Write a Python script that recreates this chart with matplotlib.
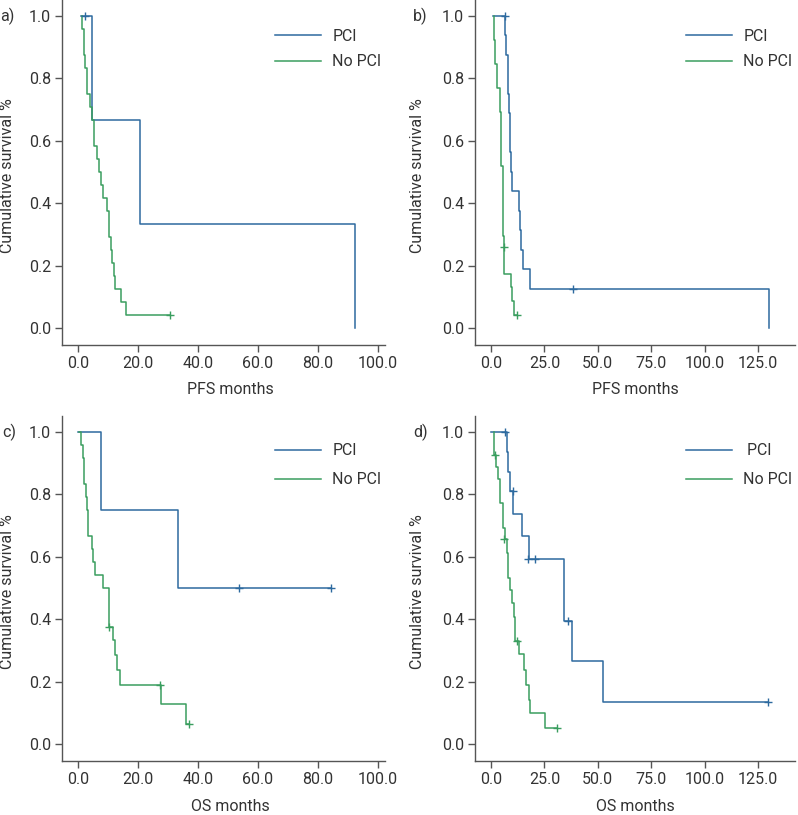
import matplotlib
matplotlib.use("Agg")
import matplotlib.pyplot as plt

plt.rcParams['font.family'] = ['Roboto', 'DejaVu Sans']

# 颜色
blue = "#2d6a9f"
green = "#3a9e5f"
grey = "#555555"
text_col = "#333333"
fs = 11.5

# a) PFS, 4 个面板的 Kaplan-Meier 阶梯数据 (时间, 生存率)
a_pci_t = [0.9, 4.6, 20.7, 92.2]
a_pci_s = [1.0, 0.667, 0.333, 0.0]
a_pci_cens_t = [2.5]
a_pci_cens_s = [1.0]
a_nopci_t = [1.4, 1.5, 1.9, 2.3, 3.0, 4.1, 4.7, 5.5, 6.2, 7.1, 7.8, 8.2, 9.6,
             10.2, 10.4, 10.9, 11.3, 12.1, 12.5, 14.2, 16.1, 30.7]
a_nopci_s = [1.0, 0.958, 0.875, 0.833, 0.75, 0.708, 0.667, 0.583, 0.542, 0.5,
             0.458, 0.417, 0.375, 0.333, 0.292, 0.25, 0.208, 0.167, 0.125,
             0.083, 0.042, 0.042]
a_nopci_cens_t = [30.7]
a_nopci_cens_s = [0.042]

# b) PFS
b_pci_t = [1.1, 6.6, 7.0, 7.8, 8.3, 8.7, 9.2, 9.8, 13.2, 13.6, 14.2, 14.8, 18.2, 130.0]
b_pci_s = [1.0, 0.9375, 0.875, 0.75, 0.6875, 0.5625, 0.5, 0.4375, 0.375,
           0.3125, 0.25, 0.1875, 0.125, 0.0]
b_pci_cens_t = [6.6, 38.3]
b_pci_cens_s = [1.0, 0.125]
b_nopci_t = [1.2, 1.4, 1.9, 3.0, 4.2, 4.8, 5.5, 5.8, 5.95, 6.2, 9.4, 10.0, 10.9, 12.3]
b_nopci_s = [1.0, 0.923, 0.846, 0.769, 0.692, 0.52, 0.333, 0.296, 0.261,
             0.174, 0.13, 0.087, 0.043, 0.043]
b_nopci_cens_t = [6.1, 12.3]
b_nopci_cens_s = [0.261, 0.043]

# c) OS
c_pci_t = [0.0, 7.7, 33.2, 84.3]
c_pci_s = [1.0, 0.75, 0.5, 0.5]
c_pci_cens_t = [53.8, 84.3]
c_pci_cens_s = [0.5, 0.5]
c_nopci_t = [0.5, 1.1, 1.55, 2.0, 2.6, 2.9, 3.35, 4.6, 5.0, 5.6, 8.4, 10.3,
             11.6, 12.2, 13.1, 14.0, 27.7, 36.1, 37.1]
c_nopci_s = [1.0, 0.958, 0.917, 0.833, 0.792, 0.75, 0.667, 0.625, 0.583, 0.542,
             0.5, 0.375, 0.333, 0.286, 0.238, 0.19, 0.127, 0.063, 0.063]
c_nopci_cens_t = [10.3, 27.3, 37.1]
c_nopci_cens_s = [0.375, 0.19, 0.063]

# d) OS
d_pci_t = [0.2, 7.3, 8.1, 8.9, 10.5, 14.5, 17.6, 34.0, 38.1, 52.2, 129.8]
d_pci_s = [1.0, 0.935, 0.873, 0.812, 0.738, 0.666, 0.592, 0.395, 0.267, 0.135, 0.135]
d_pci_cens_t = [6.7, 10.4, 17.4, 20.8, 36.2, 129.8]
d_pci_cens_s = [1.0, 0.812, 0.592, 0.592, 0.395, 0.135]
d_nopci_t = [1.4, 1.6, 2.2, 3.4, 4.2, 5.5, 6.4, 7.3, 8.0, 8.9, 10.0, 10.8,
             11.4, 13.0, 15.6, 16.5, 17.8, 18.4, 25.1, 31.0]
d_nopci_s = [1.0, 0.925, 0.889, 0.85, 0.772, 0.693, 0.656, 0.613, 0.531, 0.493,
             0.452, 0.408, 0.331, 0.287, 0.236, 0.188, 0.142, 0.098, 0.05, 0.05]
d_nopci_cens_t = [2.0, 6.2, 12.3, 31.0]
d_nopci_cens_s = [0.925, 0.656, 0.331, 0.05]

xticks_100 = [0, 20, 40, 60, 80, 100]
xticks_125 = [0, 25, 50, 75, 100, 125]
yticks = [0.0, 0.2, 0.4, 0.6, 0.8, 1.0]

W, H = 798, 815


def px_axes(fig, left, top, width, height):
    # 用像素位置创建坐标轴
    return fig.add_axes([left / W, (H - top - height) / H, width / W, height / H])


def draw_panel(ax, pci, nopci, xticks, xlim, xlabel, pci_label, leg_y, leg_sp):
    pt, ps, pct, pcs = pci
    nt, ns, nct, ncs = nopci
    l1, = ax.step(pt, ps, where="post", color=blue, lw=1.1)
    l2, = ax.step(nt, ns, where="post", color=green, lw=1.1)
    ax.plot(pct, pcs, ls="none", marker="+", ms=6, mew=1.0, color=blue)
    ax.plot(nct, ncs, ls="none", marker="+", ms=6, mew=1.0, color=green)

    ax.set_xlim(*xlim)
    ax.set_ylim(-0.0545, 1.051)
    ax.set_xticks(xticks)
    ax.set_xticklabels([f"{v:.1f}" for v in xticks])
    ax.set_yticks(yticks)
    ax.set_yticklabels([f"{v:.1f}" for v in yticks])

    for s in ["top", "right"]:
        ax.spines[s].set_visible(False)
    for s in ["left", "bottom"]:
        ax.spines[s].set_color(grey)
        ax.spines[s].set_linewidth(1.0)
    ax.tick_params(direction="out", length=5, width=1.0, color=grey,
                   labelcolor=text_col, labelsize=fs, pad=3)

    ax.set_xlabel(xlabel, fontsize=fs, color=text_col)
    ax.set_ylabel("Cumulative survival %", fontsize=fs, color=text_col)

    ax.legend([l1, l2], [pci_label, "No PCI"], loc="upper left",
              bbox_to_anchor=(0.659, leg_y), frameon=False, fontsize=fs,
              handlelength=2.9, handletextpad=0.7, borderpad=0,
              borderaxespad=0, labelspacing=leg_sp, labelcolor=text_col)


fig = plt.figure(figsize=(W / 100, H / 100), dpi=100)

ax_a = px_axes(fig, 62, 0, 323, 345)
ax_b = px_axes(fig, 475, 0, 320, 345)
ax_c = px_axes(fig, 62, 416, 323, 345)
ax_d = px_axes(fig, 475, 416, 320, 345)

draw_panel(ax_a, (a_pci_t, a_pci_s, a_pci_cens_t, a_pci_cens_s),
           (a_nopci_t, a_nopci_s, a_nopci_cens_t, a_nopci_cens_s),
           xticks_100, (-5.33, 102.33), "PFS months", "PCI", 0.916, 0.64)
draw_panel(ax_b, (b_pci_t, b_pci_s, b_pci_cens_t, b_pci_cens_s),
           (b_nopci_t, b_nopci_s, b_nopci_cens_t, b_nopci_cens_s),
           xticks_125, (-7.49, 142.3), "PFS months", "PCI", 0.916, 0.64)
draw_panel(ax_c, (c_pci_t, c_pci_s, c_pci_cens_t, c_pci_cens_s),
           (c_nopci_t, c_nopci_s, c_nopci_cens_t, c_nopci_cens_s),
           xticks_100, (-5.33, 102.33), "OS months", "PCI", 0.921, 0.89)
draw_panel(ax_d, (d_pci_t, d_pci_s, d_pci_cens_t, d_pci_cens_s),
           (d_nopci_t, d_nopci_s, d_nopci_cens_t, d_nopci_cens_s),
           xticks_125, (-7.49, 142.3), "OS months", " PCI", 0.921, 0.89)

# 轴标签位置微调 (ylabel 坐标为文字靠近轴的一侧, xlabel 为文字顶部)
for ax, lx in [(ax_a, -0.146), (ax_c, -0.146), (ax_b, -0.156), (ax_d, -0.156)]:
    ax.yaxis.set_label_coords(lx, 0.49)
ax_a.xaxis.set_label_coords(0.52, -0.108)
ax_c.xaxis.set_label_coords(0.52, -0.11)
ax_b.xaxis.set_label_coords(0.502, -0.108)
ax_d.xaxis.set_label_coords(0.502, -0.11)

# 面板编号
for lab, x, y in [("a)", 0, 16), ("b)", 413, 16), ("c)", 2, 432), ("d)", 413, 432)]:
    fig.text(x / W, 1 - y / H, lab, fontsize=fs, color=text_col,
             ha="left", va="center")

fig.savefig("out.png", dpi=100)
